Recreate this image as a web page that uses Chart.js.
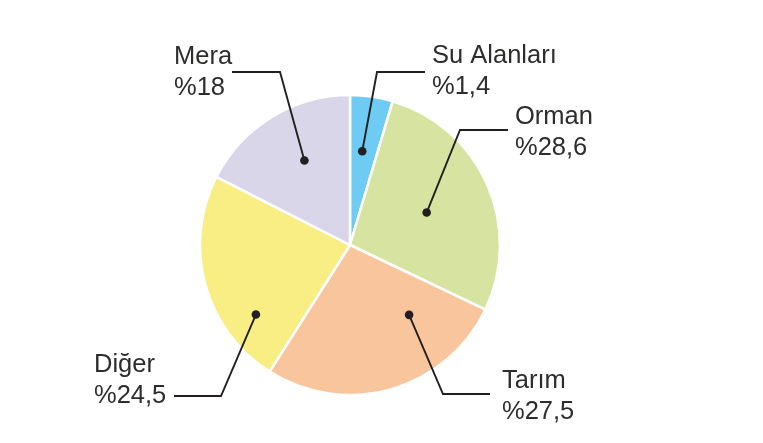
<!DOCTYPE html>
<html>
<head>
<meta charset="utf-8">
<script src="https://cdn.jsdelivr.net/npm/chart.js@4"></script>
<style>
  html, body { margin: 0; padding: 0; background: #fff; }
  #wrap { width: 763px; height: 443px; position: relative; }
</style>
</head>
<body>
<div id="wrap"><canvas id="pasta"></canvas></div>
<script>
// slice order clockwise from 12 o'clock
const kategoriler = ['Su Alanları', 'Orman', 'Tarım', 'Diğer', 'Mera'];
const etiketler = ['%1,4', '%28,6', '%27,5', '%24,5', '%18'];
// slice sizes as drawn in the picture (percent of circle)
const dilimler = [4.6, 27.5, 26.9, 23.5, 17.5];
const renkler = ['#6ecbf3', '#d6e3a1', '#f9c59d', '#f8ee83', '#d9d6ea'];

// callout layout: dot inside slice (t along arc, f of radius), elbow and text relative to centre
const cagri = [
    { t: 0.45, f: 0.63, dirsek: [27, -173], uc: [75, -173], metin: [82, -182] },
    { t: 0.51, f: 0.555, dirsek: [110, -115], uc: [158, -115], metin: [165, -121] },
    { t: 0.25, f: 0.61, dirsek: [93, 149], uc: [140, 149], metin: [152, 143] },
    { t: 0.25, f: 0.78, dirsek: [-129, 151], uc: [-176, 151], metin: [-256, 127] },
    { t: 0.55, f: 0.64, dirsek: [-70, -173], uc: [-118, -173], metin: [-176, -181] }
];

const cagriEklentisi = {
    id: 'cagri',
    afterDatasetsDraw(chart) {
        const ctx = chart.ctx;
        const arcs = chart.getDatasetMeta(0).data;
        ctx.save();
        ctx.lineWidth = 1.9;
        arcs.forEach((arc, i) => {
            const c = cagri[i];
            const a = arc.startAngle + c.t * (arc.endAngle - arc.startAngle);
            const r = c.f * arc.outerRadius;
            const dx = arc.x + Math.cos(a) * r;
            const dy = arc.y + Math.sin(a) * r;
            ctx.strokeStyle = '#231f20';
            ctx.fillStyle = '#231f20';
            ctx.beginPath();
            ctx.moveTo(dx, dy);
            ctx.lineTo(arc.x + c.dirsek[0], arc.y + c.dirsek[1]);
            ctx.lineTo(arc.x + c.uc[0], arc.y + c.uc[1]);
            ctx.stroke();
            ctx.beginPath();
            ctx.arc(dx, dy, 4.3, 0, Math.PI * 2);
            ctx.fill();

            // label text
            ctx.fillStyle = '#2e2d2c';
            ctx.font = '25.5px "Liberation Sans", Arial, sans-serif';
            ctx.textAlign = 'left';
            ctx.textBaseline = 'alphabetic';
            ctx.fillText(kategoriler[i], arc.x + c.metin[0], arc.y + c.metin[1]);
            ctx.fillText(etiketler[i], arc.x + c.metin[0], arc.y + c.metin[1] + 31);
        });
        ctx.restore();
    }
};

new Chart(document.getElementById('pasta'), {
    type: 'pie',
    data: {
        labels: kategoriler,
        datasets: [{
            data: dilimler,
            backgroundColor: renkler,
            borderColor: '#ffffff',
            borderWidth: 2.5
        }]
    },
    options: {
        responsive: true,
        maintainAspectRatio: false,
        animation: false,
        radius: 150,
        layout: { padding: { left: 200, right: 263, top: 95, bottom: 48 } },
        plugins: {
            legend: { display: false },
            tooltip: { enabled: false }
        }
    },
    plugins: [cagriEklentisi]
});
</script>
</body>
</html>
